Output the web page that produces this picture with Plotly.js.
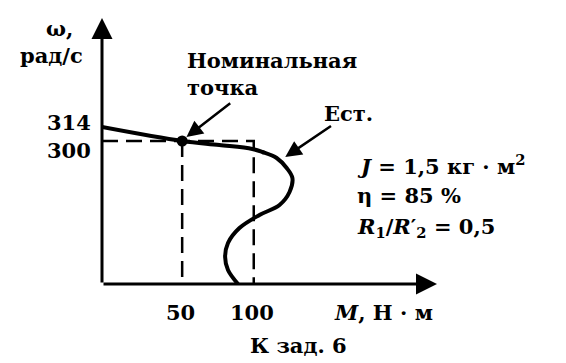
<!DOCTYPE html>
<html>
<head>
<meta charset="utf-8">
<script src="https://cdn.plot.ly/plotly-3.0.1.min.js"></script>
<style>
  html, body { margin: 0; padding: 0; background: #fff; }
  #chart { width: 566px; height: 363px; }
</style>
</head>
<body>
<div id="chart"></div>
<script>
// Natural characteristic "Ест." (M in N·m, ω in rad/s)
const torque = [-6, 50, 76, 99, 106, 116, 123, 127, 125, 118, 104, 90, 82, 80, 82, 89];
const omega = [314, 300, 296, 292, 289, 283, 273, 263, 249, 236, 226, 213, 198, 184, 171, 157];

// Nominal point and the dashed guide to M = 100
const nominalM = 50;
const nominalW = 300;
const guideM = 100;

// Axis window (schematic, the axes do not start at zero)
const xRange = [-6, 228];
const yRange = [157, 423];

const yTickVals = [314, 300];
const xTickVals = [50, 100];

const paramLines = [
  '<i>J</i> = 1,5 кг · м<sup>2</sup>',
  'η = 85 %',
  '<i>R</i><sub>1</sub>/<i>R</i>′<sub>2</sub> = 0,5'
];
const paramOmega = [276, 246, 214];

const FONT = { family: '"DejaVu Serif", "Liberation Serif", serif', size: 21, color: '#000' };

const x0 = xRange[0], y0 = yRange[0];

const traces = [
  // dashed guide: ω = 300 across, then down at M = 100
  {
    x: [x0, guideM, guideM],
    y: [nominalW, nominalW, y0],
    mode: 'lines',
    line: { color: '#000', width: 2.5, dash: '16px,8px' },
    hoverinfo: 'skip'
  },
  // dashed drop from the nominal point
  {
    x: [nominalM, nominalM],
    y: [nominalW, y0],
    mode: 'lines',
    line: { color: '#000', width: 2.5, dash: '16px,8px' },
    hoverinfo: 'skip'
  },
  // natural characteristic
  {
    x: torque,
    y: omega,
    mode: 'lines',
    line: { color: '#000', width: 4, shape: 'spline', smoothing: 1 },
    hoverinfo: 'skip'
  },
  // nominal point
  {
    x: [nominalM],
    y: [nominalW],
    mode: 'markers',
    marker: { color: '#000', size: 11 },
    hoverinfo: 'skip'
  }
];

const annotations = [];

// axes with arrows
annotations.push({
  x: xRange[1], y: y0, ax: x0, ay: y0,
  xref: 'x', yref: 'y', axref: 'x', ayref: 'y',
  text: '', showarrow: true, arrowhead: 2, arrowsize: 1.4, arrowwidth: 3, arrowcolor: '#000', standoff: 0
});
annotations.push({
  x: x0, y: yRange[1], ax: x0, ay: y0,
  xref: 'x', yref: 'y', axref: 'x', ayref: 'y',
  text: '', showarrow: true, arrowhead: 2, arrowsize: 1.4, arrowwidth: 3, arrowcolor: '#000', standoff: 0
});

// y tick labels (the two are pushed apart in the drawing)
const yShifts = [5, -9];
yTickVals.forEach((v, i) => {
  annotations.push({
    x: x0, y: v, xref: 'x', yref: 'y', text: '<b>' + v + '</b>',
    showarrow: false, xanchor: 'right', yanchor: 'middle',
    xshift: -9, yshift: yShifts[i], font: FONT
  });
});

// x tick labels
xTickVals.forEach((v) => {
  annotations.push({
    x: v, y: y0, xref: 'x', yref: 'y', text: '<b>' + v + '</b>',
    showarrow: false, xanchor: 'center', yanchor: 'middle',
    xshift: -2, yshift: -28, font: FONT
  });
});

// axis titles
annotations.push({
  x: x0, y: yRange[1], xref: 'x', yref: 'y', text: '<b>ω,</b>',
  showarrow: false, xanchor: 'center', yanchor: 'middle',
  xshift: -43, yshift: -10, font: FONT
});
annotations.push({
  x: x0, y: yRange[1], xref: 'x', yref: 'y', text: '<b>рад/с</b>',
  showarrow: false, xanchor: 'center', yanchor: 'middle',
  xshift: -51, yshift: -37, font: FONT
});
annotations.push({
  x: 155, y: y0, xref: 'x', yref: 'y', text: '<b><i>M</i>, Н · м</b>',
  showarrow: false, xanchor: 'left', yanchor: 'middle',
  yshift: -28, font: FONT
});

// caption
annotations.push({
  x: 131.5, y: y0, xref: 'x', yref: 'y', text: '<b>К зад. 6</b>',
  showarrow: false, xanchor: 'center', yanchor: 'middle',
  yshift: -61, font: FONT
});

// nominal point label with pointer
annotations.push({
  x: 51.7, y: 367, xref: 'x', yref: 'y', text: '<b>Номинальная<br>точка</b>',
  showarrow: false, xanchor: 'left', yanchor: 'middle', align: 'left', font: FONT
});
annotations.push({
  x: 53, y: 304, ax: 84.6, ay: 339,
  xref: 'x', yref: 'y', axref: 'x', ayref: 'y',
  text: '', showarrow: true, arrowhead: 2, arrowsize: 1.3, arrowwidth: 2.5, arrowcolor: '#000', standoff: 0
});

// natural characteristic label with pointer
annotations.push({
  x: 147.6, y: 328, xref: 'x', yref: 'y', text: '<b>Ест.</b>',
  showarrow: false, xanchor: 'left', yanchor: 'middle', font: FONT
});
annotations.push({
  x: 122, y: 284, ax: 155, ay: 316,
  xref: 'x', yref: 'y', axref: 'x', ayref: 'y',
  text: '', showarrow: true, arrowhead: 2, arrowsize: 1.3, arrowwidth: 2.5, arrowcolor: '#000', standoff: 0
});

// motor parameters
paramLines.forEach((t, i) => {
  annotations.push({
    x: 170.6, y: paramOmega[i], xref: 'x', yref: 'y', text: '<b>' + t + '</b>',
    showarrow: false, xanchor: 'left', yanchor: 'middle', font: FONT
  });
});

const layout = {
  width: 566,
  height: 363,
  margin: { l: 102, r: 129, t: 18, b: 79 },
  paper_bgcolor: '#fff',
  plot_bgcolor: '#fff',
  showlegend: false,
  xaxis: { range: xRange, visible: false, fixedrange: true },
  yaxis: { range: yRange, visible: false, fixedrange: true },
  annotations: annotations,
  font: FONT
};

Plotly.newPlot('chart', traces, layout, { staticPlot: true, displayModeBar: false });
</script>
</body>
</html>
